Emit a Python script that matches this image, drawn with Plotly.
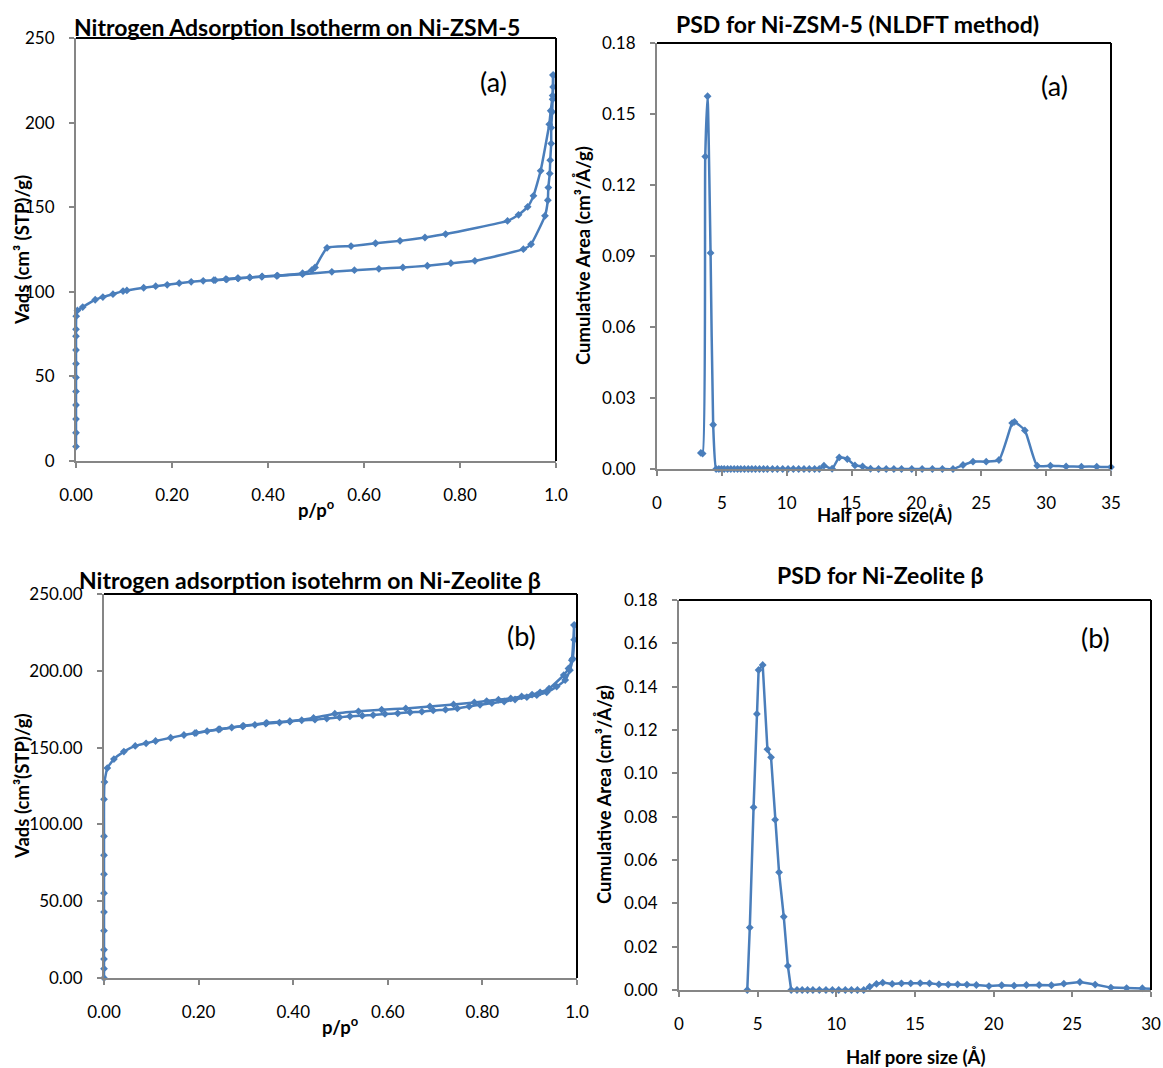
import plotly.graph_objects as go

# ---------------- Data ----------------
# (a) Ni-ZSM-5 isotherm
zsm_ads_p = [0.0, 0.0, 0.0, 0.0, 0.0, 0.0, 0.0, 0.0, 0.0, 0.0, 0.0005, 0.003, 0.014, 0.040, 0.056,
             0.077, 0.098, 0.106, 0.141, 0.166, 0.190, 0.215, 0.240, 0.265, 0.287, 0.312, 0.337,
             0.362, 0.387, 0.418, 0.472, 0.533, 0.580, 0.631, 0.681, 0.732, 0.781, 0.831, 0.932,
             0.948, 0.977, 0.983, 0.984, 0.987, 0.988, 0.990, 0.990, 0.992, 0.993, 0.994, 0.994]
zsm_ads_v = [8.5, 16.7, 24.8, 33.1, 41.1, 49.4, 57.5, 65.6, 73.8, 77.8, 85.6, 89.0, 91.0, 95.3, 96.9,
             98.6, 100.4, 100.8, 102.4, 103.3, 104.1, 105.1, 105.9, 106.5, 106.9, 107.5, 108.1,
             108.5, 108.9, 109.4, 110.4, 111.8, 112.8, 113.6, 114.4, 115.4, 116.9, 118.3, 125.2,
             128.1, 144.9, 154.1, 161.6, 169.9, 177.8, 187.6, 197.0, 206.3, 213.8, 221.1, 228.1]
zsm_des_p = [0.994, 0.993, 0.989, 0.986, 0.968, 0.953, 0.941, 0.922, 0.899, 0.770, 0.727, 0.675,
             0.624, 0.573, 0.523, 0.498, 0.491, 0.472, 0.420, 0.388, 0.362, 0.338, 0.314, 0.290]
zsm_des_v = [228.1, 216.0, 207.0, 199.0, 171.5, 156.7, 150.2, 145.5, 141.9, 134.1, 132.1, 130.1,
             128.7, 127.0, 126.0, 114.4, 112.8, 111.0, 109.6, 109.1, 108.5, 107.9, 107.3, 106.9]

# (a) Ni-ZSM-5 PSD
zsm_psd_x = [3.38, 3.52, 3.72, 3.90, 4.13, 4.33, 4.56, 4.77, 4.97, 5.18, 5.44, 5.69, 5.95, 6.21,
             6.46, 6.74, 7.03, 7.31, 7.59, 7.90, 8.21, 8.51, 8.90, 9.28, 9.69, 10.10, 10.51,
             10.92, 11.33, 11.74, 12.15, 12.51, 12.87, 13.50, 14.05, 14.67, 15.26, 15.85, 16.46,
             17.08, 17.67, 18.26, 18.85, 19.64, 20.44, 21.23, 22.00, 22.82, 23.59, 24.36, 25.38,
             26.36, 27.38, 27.56, 28.36, 29.31, 30.33, 31.54, 32.72, 33.90, 35.00]
zsm_psd_y = [0.0068, 0.0065, 0.1320, 0.1575, 0.0913, 0.0187, 0.0, 0.0, 0.0, 0.0, 0.0, 0.0, 0.0,
             0.0, 0.0, 0.0, 0.0, 0.0, 0.0, 0.0, 0.0, 0.0, 0.0, 0.0, 0.0, 0.0, 0.0, 0.0, 0.0, 0.0,
             0.0, 0.0, 0.0014, 0.0001, 0.0049, 0.0042, 0.0015, 0.0011, 0.0001, 0.0, 0.0, 0.0, 0.0,
             0.0, 0.0, 0.0, 0.0, 0.0, 0.0017, 0.0031, 0.0031, 0.0038, 0.0194, 0.0199, 0.0163,
             0.0014, 0.0014, 0.0011, 0.0010, 0.0010, 0.0008]

# (b) Ni-Zeolite beta isotherm
bea_ads_p = [0.0, 0.0, 0.0, 0.0, 0.0, 0.0, 0.0, 0.0, 0.0, 0.0, 0.0, 0.001, 0.007, 0.021, 0.042,
             0.066, 0.089, 0.109, 0.141, 0.169, 0.192, 0.218, 0.242, 0.270, 0.293, 0.319, 0.342,
             0.371, 0.393, 0.418, 0.446, 0.471, 0.498, 0.520, 0.546, 0.569, 0.594, 0.621, 0.647,
             0.672, 0.696, 0.722, 0.747, 0.772, 0.795, 0.820, 0.846, 0.869, 0.894, 0.915, 0.936,
             0.957, 0.975, 0.985, 0.991, 0.994, 0.994]
bea_ads_v = [0.0, 6.1, 12.3, 18.4, 30.8, 42.9, 55.2, 67.6, 79.9, 92.3, 116.3, 127.6, 136.7, 142.5,
             147.4, 151.1, 152.8, 154.3, 156.4, 158.2, 159.4, 160.7, 161.8, 163.1, 163.9, 164.8,
             165.7, 166.3, 167.0, 167.8, 168.2, 168.9, 169.7, 170.4, 170.8, 171.2, 171.9, 172.3,
             173.0, 173.4, 174.2, 174.7, 175.5, 176.8, 177.9, 179.0, 180.0, 181.3, 182.8, 184.1,
             186.0, 189.7, 194.0, 200.4, 207.9, 220.2, 229.8]
bea_des_p = [0.994, 0.989, 0.982, 0.972, 0.941, 0.922, 0.905, 0.883, 0.860, 0.834, 0.809, 0.783,
             0.739, 0.689, 0.638, 0.587, 0.538, 0.488, 0.443, 0.393, 0.344, 0.295, 0.245, 0.195]
bea_des_v = [229.8, 206.9, 201.5, 197.2, 188.4, 186.0, 184.5, 183.3, 182.0, 181.2, 180.3, 179.4,
             178.1, 176.8, 175.5, 174.7, 173.6, 172.1, 169.3, 167.2, 166.1, 164.2, 162.0, 159.6]

# (b) Ni-Zeolite beta PSD
bea_psd_x = [4.34, 4.50, 4.74, 4.95, 5.06, 5.32, 5.62, 5.85, 6.11, 6.36, 6.66, 6.92, 7.13, 7.50,
             7.83, 8.17, 8.51, 8.92, 9.34, 9.75, 10.15, 10.57, 10.96, 11.34, 11.74, 12.12, 12.55,
             12.95, 13.55, 14.14, 14.73, 15.33, 15.92, 16.52, 17.11, 17.71, 18.30, 18.90, 19.70,
             20.51, 21.30, 22.08, 22.89, 23.67, 24.46, 25.48, 26.45, 27.45, 28.45, 29.45, 30.10]
bea_psd_y = [0.0, 0.0288, 0.0843, 0.1274, 0.1477, 0.1500, 0.1111, 0.1074, 0.0786, 0.0543, 0.0338,
             0.0111, 0.0, 0.0, 0.0, 0.0, 0.0, 0.0, 0.0, 0.0, 0.0, 0.0, 0.0, 0.0, 0.0, 0.0015,
             0.0028, 0.0034, 0.0028, 0.0031, 0.0031, 0.0032, 0.0031, 0.0026, 0.0025, 0.0026,
             0.0025, 0.0023, 0.0018, 0.0022, 0.0020, 0.0023, 0.0023, 0.0022, 0.0029, 0.0037,
             0.0025, 0.0011, 0.0009, 0.0008, 0.0006]

iso_xticks = [0.0, 0.2, 0.4, 0.6, 0.8, 1.0]
iso_xtext = ["0.00", "0.20", "0.40", "0.60", "0.80", "1.0"]

# ---------------- Figure ----------------
BLUE = "#4A7EBB"
FONT = "Lato"
W, H = 1163, 1068

fig = go.Figure()

def add(x, y, xa, ya, shape="linear", smooth=None):
    line = dict(color=BLUE, width=2.5, shape=shape)
    if smooth is not None:
        line["smoothing"] = smooth
    fig.add_trace(go.Scatter(x=x, y=y, xaxis=xa, yaxis=ya, mode="lines+markers",
                             line=line, marker=dict(symbol="diamond", size=6, color=BLUE),
                             cliponaxis=False, showlegend=False, hoverinfo="skip"))

add(zsm_ads_p, zsm_ads_v, "x", "y", "spline", 0.4)
add(zsm_des_p, zsm_des_v, "x", "y", "spline", 0.4)
add(zsm_psd_x, zsm_psd_y, "x2", "y2", "spline", 0.5)
add(bea_ads_p, bea_ads_v, "x3", "y3", "spline", 0.4)
add(bea_des_p, bea_des_v, "x3", "y3", "spline", 0.4)
add(bea_psd_x, bea_psd_y, "x4", "y4")

def px_x(p):
    return p / W

def px_y(p):
    return 1 - p / H

axcommon = dict(showline=True, linecolor="#868686", linewidth=2, ticks="outside", ticklen=5,
                tickcolor="#868686", tickwidth=2, showgrid=False, zeroline=False,
                automargin=False,
                tickfont=dict(family=FONT, size=17, color="black"))

# panel domains (pixels)
doms = {
    1: (76, 556, 38, 461),
    2: (657, 1111, 43, 469),
    3: (104, 577, 594, 978),
    4: (679, 1151, 600, 990),
}

layout = dict(width=W, height=H, margin=dict(l=0, r=0, t=0, b=0, autoexpand=False),
              plot_bgcolor="white", paper_bgcolor="white", showlegend=False)

xcfg = {
    1: dict(range=[0, 1.0], tickvals=iso_xticks, ticktext=iso_xtext),
    2: dict(range=[0, 35], tickvals=[0, 5, 10, 15, 20, 25, 30, 35]),
    3: dict(range=[0, 1.0], tickvals=iso_xticks, ticktext=iso_xtext),
    4: dict(range=[0, 30], tickvals=[0, 5, 10, 15, 20, 25, 30]),
}
ycfg = {
    1: dict(range=[0, 250], tickvals=[0, 50, 100, 150, 200, 250]),
    2: dict(range=[0, 0.18], tickvals=[0, 0.03, 0.06, 0.09, 0.12, 0.15, 0.18], tickformat=".2f"),
    3: dict(range=[0, 250], tickvals=[0, 50, 100, 150, 200, 250], tickformat=".2f"),
    4: dict(range=[0, 0.18], tickvals=[0, 0.02, 0.04, 0.06, 0.08, 0.10, 0.12, 0.14, 0.16, 0.18],
            tickformat=".2f"),
}

shapes = []
for i, (l, r, t, b) in doms.items():
    sx = "" if i == 1 else str(i)
    layout["xaxis" + sx] = dict(axcommon, domain=[px_x(l), px_x(r)], anchor="y" + sx,
                                ticklabelstandoff=13, **xcfg[i])
    layout["yaxis" + sx] = dict(axcommon, domain=[px_y(b), px_y(t)], anchor="x" + sx,
                                ticklabelstandoff=11, **ycfg[i])
    xd, yd = "x" + sx + " domain", "y" + sx + " domain"
    shapes.append(dict(type="line", xref=xd, yref=yd, x0=0, x1=1, y0=1, y1=1,
                       line=dict(color="black", width=2)))
    shapes.append(dict(type="line", xref=xd, yref=yd, x0=1, x1=1, y0=0, y1=1,
                       line=dict(color="black", width=2)))
layout["shapes"] = shapes

ann = []

def text(x, y, s, size, bold=False, angle=0, xanchor="center"):
    ann.append(dict(x=px_x(x), y=px_y(y), xref="paper", yref="paper", text=s, showarrow=False,
                    textangle=angle, xanchor=xanchor, yanchor="middle",
                    font=dict(family=FONT, size=size, color="black",
                              weight="bold" if bold else "normal")))

# titles
text(297, 27, "Nitrogen Adsorption Isotherm on Ni-ZSM-5", 23, True)
text(857, 24, "PSD for Ni-ZSM-5 (NLDFT method)", 23, True)
text(310, 580, "Nitrogen adsorption isotehrm on Ni-Zeolite β", 23, True)
text(880, 575, "PSD for Ni-Zeolite β", 23, True)
# axis titles
text(316, 508, "p/p<sup>o</sup>", 18.5, True)
text(884, 515, "Half pore size(Å)", 18.5, True)
text(340, 1025, "p/p<sup>o</sup>", 18.5, True)
text(915, 1057, "Half pore size (Å)", 18.5, True)
text(22, 250, "Vads (cm³ (STP)/g)", 18.5, True, -90)
text(583, 256, "Cumulative Area (cm³/Å/g)", 18.5, True, -90)
text(22, 786, "Vads (cm³(STP)/g)", 18.5, True, -90)
text(604, 795, "Cumulative Area (cm³/Å/g)", 18.5, True, -90)
# panel labels
text(493, 82, "(a)", 27)
text(1054, 85, "(a)", 27)
text(521, 635, "(b)", 27)
text(1095, 637, "(b)", 27)
layout["annotations"] = ann

fig.update_layout(**layout)
fig.write_html("out.html")
